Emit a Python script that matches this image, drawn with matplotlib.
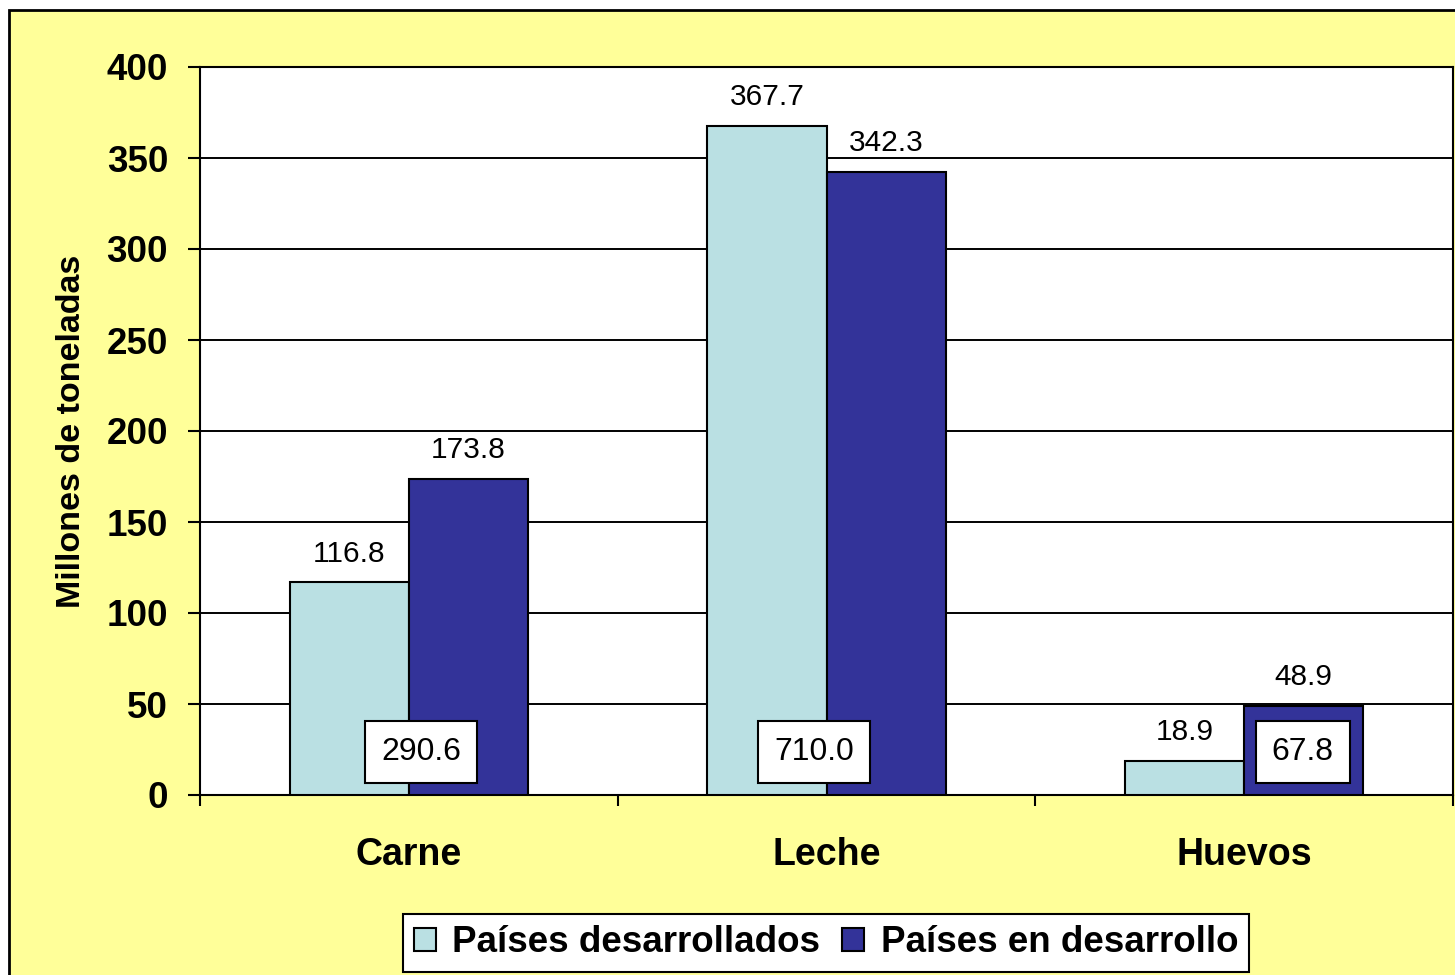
import matplotlib.pyplot as plt
import numpy as np
from matplotlib.patches import Rectangle

# Datos
categorias = ["Carne", "Leche", "Huevos"]
desarrollados = [116.8, 367.7, 18.9]
en_desarrollo = [173.8, 342.3, 48.9]
totales = [290.6, 710.0, 67.8]
series = ["Países desarrollados", "Países en desarrollo"]

color_claro = "#BAE0E3"
color_oscuro = "#333399"
amarillo = "#FFFF99"

plt.rcParams['font.family'] = ['Liberation Sans', 'DejaVu Sans']

fig = plt.figure(figsize=(14.55, 9.75), dpi=100)
fig.patch.set_facecolor("white")
# marco amarillo con borde negro (cortado a la derecha y abajo)
fig.patches.append(Rectangle((9 / 1455, -0.05), 1.2, 1 - 10 / 975 + 0.05,
                             transform=fig.transFigure, facecolor=amarillo,
                             edgecolor="black", linewidth=2, zorder=-10))

ax = fig.add_axes([200 / 1455, 1 - 795 / 975, 1253 / 1455, 728 / 975])
ax.set_facecolor("white")

x = np.arange(len(categorias))
ancho = 0.285
b1 = ax.bar(x - ancho / 2, desarrollados, ancho, color=color_claro, edgecolor="black",
            linewidth=1.5, label=series[0], zorder=3)
b2 = ax.bar(x + ancho / 2, en_desarrollo, ancho, color=color_oscuro, edgecolor="black",
            linewidth=1.5, label=series[1], zorder=3)

for barras in (b1, b2):
    for b in barras:
        h = b.get_height()
        ax.text(b.get_x() + b.get_width() / 2, h + 8, f"{h:.1f}", ha="center", va="bottom",
                fontsize=21.5, zorder=5)

# cajas de totales
desplaz = [0.03, -0.03, 0.14]
for i, t in enumerate(totales):
    ax.text(x[i] + desplaz[i], 23.5, f"{t:.1f}", ha="center", va="center", fontsize=23, zorder=6,
            bbox=dict(boxstyle="square,pad=0.5", facecolor="white", edgecolor="black", linewidth=1.5))

ax.set_ylim(0, 400)
ax.set_xlim(-0.5, 2.5)
ax.set_yticks(range(0, 401, 50))
ax.yaxis.grid(True, color="black", linewidth=1.4, zorder=1)
ax.set_axisbelow(True)

ax.set_xticks(x)
ax.set_xticklabels(categorias, fontsize=27, fontweight="bold")
ax.set_xticks([-0.5, 0.5, 1.5, 2.5], minor=True)
ax.tick_params(axis="x", which="major", length=0, pad=30)
ax.tick_params(axis="x", which="minor", length=8, width=1.5)
ax.tick_params(axis="y", length=9, width=1.5, pad=14, labelsize=26.5)
for lab in ax.get_yticklabels():
    lab.set_fontweight("bold")

for s in ax.spines.values():
    s.set_linewidth(1.5)

ax.set_ylabel("Millones de toneladas", fontsize=24.5, fontweight="bold", labelpad=14)

leg = fig.legend(handles=[b1, b2], labels=series, loc="center", bbox_to_anchor=(826 / 1455, 1 - 943 / 975),
                 ncol=2, prop=dict(weight="bold", size=26.5), frameon=True, fancybox=False,
                 edgecolor="black", facecolor="white", framealpha=1,
                 handlelength=0.6, handleheight=0.6, handletextpad=0.45,
                 columnspacing=0.6, borderpad=0.3, borderaxespad=0)
leg.get_frame().set_linewidth(1.5)

fig.savefig("out.png", dpi=100)
